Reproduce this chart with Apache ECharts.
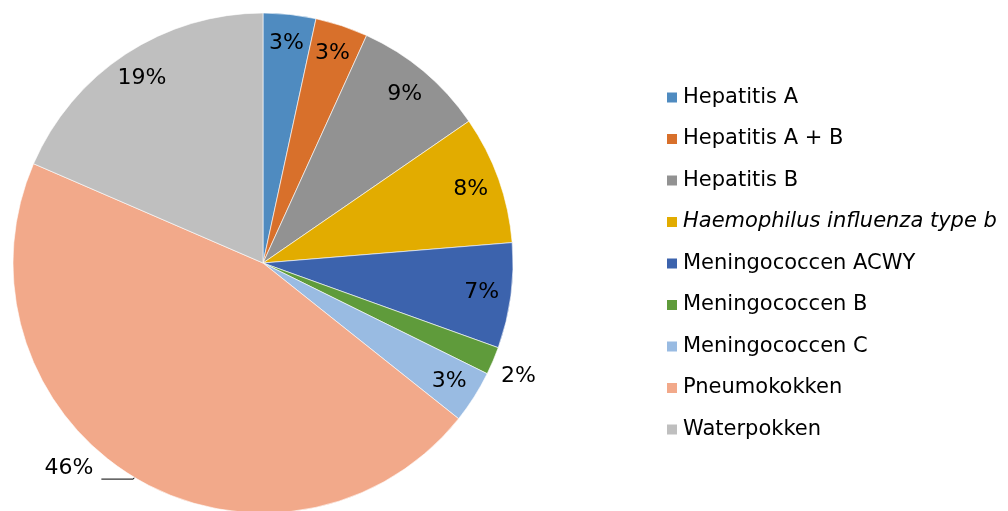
<!DOCTYPE html>
<html>
<head>
<meta charset="utf-8">
<script src="https://cdn.jsdelivr.net/npm/echarts@6/dist/echarts.min.js"></script>
<style>
  html, body { margin: 0; padding: 0; background: #fff; }
  #chart { width: 1008px; height: 511px; }
</style>
</head>
<body>
<div id="chart"></div>
<script>
// vaccine share (%)
const names = [
  "Hepatitis A",
  "Hepatitis A + B",
  "Hepatitis B",
  "Haemophilus influenza type b",
  "Meningococcen ACWY",
  "Meningococcen B",
  "Meningococcen C",
  "Pneumokokken",
  "Waterpokken",
];
const shares = [3.4, 3.4, 8.6, 8.3, 6.8, 1.8, 3.4, 45.8, 18.5];
const colors = ["#4f8bc0", "#d8702b", "#929292", "#e2ac00", "#3c63ad", "#5f9b3b", "#99bbe2", "#f2a98a", "#bfbfbf"];
// which slices get their label outside the pie
const outsideLabels = ["Meningococcen B", "Pneumokokken"];

const font = "DejaVu Sans, Verdana, sans-serif";
const pct = (p) => Math.round(p.value) + "%";

const chart = echarts.init(document.getElementById("chart"));

const mainData = names.map((n, i) => {
  const out = outsideLabels.includes(n);
  const pneumo = n === "Pneumokokken";
  return {
    name: n,
    value: shares[i],
    itemStyle: { color: colors[i] },
    label: { show: out, distanceToLabelLine: pneumo ? 8 : 4 },
    labelLine: pneumo
      ? { show: true, length: 2, length2: 32 }
      : { show: false, length: 2, length2: 2 },
  };
});

const innerData = names.map((n, i) => ({
  name: n,
  value: shares[i],
  label: { show: !outsideLabels.includes(n) },
}));

chart.setOption({
  animation: false,
  legend: {
    orient: "vertical",
    left: 665,
    top: 87,
    padding: 0,
    itemWidth: 12,
    itemHeight: 12,
    itemGap: 20.5,
    icon: "rect",
    data: names,
    formatter: (name) =>
      name.startsWith("Haemophilus") ? "{i|" + name + "}" : name,
    textStyle: {
      fontFamily: font,
      fontSize: 21,
      lineHeight: 20,
      color: "#000",
      rich: {
        i: { fontFamily: font, fontSize: 21, fontStyle: "italic", color: "#000" },
      },
    },
  },
  series: [
    {
      type: "pie",
      center: [263, 263],
      radius: [0, 250],
      startAngle: 90,
      avoidLabelOverlap: false,
      itemStyle: { borderColor: "#fff", borderWidth: 0.6 },
      label: {
        position: "outside",
        formatter: pct,
        fontFamily: font,
        fontSize: 22,
        color: "#000",
      },
      labelLine: {
        lineStyle: { color: "#000", width: 1 },
      },
      labelLayout: (p) =>
        p.dataIndex === 5 ? { dy: 15 } : p.dataIndex === 7 ? { dy: -11 } : {},
      emphasis: { disabled: true },
      data: mainData,
    },
    {
      // transparent ring only used to place the inside labels near the rim
      type: "pie",
      center: [263, 263],
      radius: [185, 250],
      startAngle: 90,
      silent: true,
      avoidLabelOverlap: false,
      itemStyle: { color: "rgba(0,0,0,0)" },
      label: {
        position: "inside",
        formatter: pct,
        fontFamily: font,
        fontSize: 22,
        color: "#000",
      },
      labelLine: { show: false },
      legendHoverLink: false,
      data: innerData,
    },
  ],
});
</script>
</body>
</html>
